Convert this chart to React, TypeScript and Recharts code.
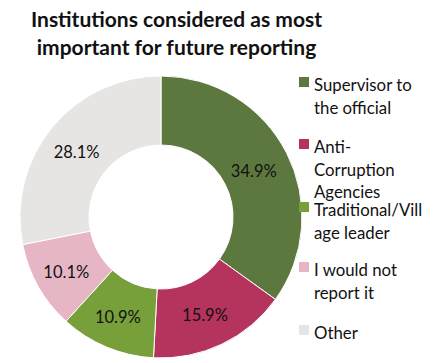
import React from "react";
import { PieChart, Pie, Cell, Legend } from "recharts";

const categories = [
  "Supervisor to the official",
  "Anti-Corruption Agencies",
  "Traditional/Village leader",
  "I would not report it",
  "Other",
];
const values = [34.9, 15.9, 10.9, 10.1, 28.1];
const colors = ["#5D783F", "#B5345D", "#77A03A", "#E7B6C5", "#E7E5E3"];
const legendLines = [
  ["Supervisor to", "the official"],
  ["Anti-", "Corruption", "Agencies"],
  ["Traditional/Vill", "age leader"],
  ["I would not", "report it"],
  ["Other"],
];
const legendTops = [77, 139, 202, 262, 325];

const data = categories.map((name, i) => ({ name, value: values[i] }));

const FONT = "Lato, 'Open Sans', sans-serif";
const RAD = Math.PI / 180;

const renderLabel = (props: any) => {
  const { cx, cy, midAngle, innerRadius, outerRadius, value } = props;
  const r = (innerRadius + outerRadius) / 2;
  const x = cx + r * Math.cos(-midAngle * RAD);
  const y = cy + r * Math.sin(-midAngle * RAD);
  return (
    <text
      x={x - 2}
      y={y + 4}
      textAnchor="middle"
      dominantBaseline="middle"
      fill="#111"
      fontSize={16.5}
      fontFamily={FONT}
    >
      {value.toFixed(1)}%
    </text>
  );
};

const LegendContent = () => (
  <div style={{ position: "relative", width: 130, height: 290, fontFamily: FONT }}>
    {legendLines.map((lines, i) => (
      <div key={i}>
        <div
          style={{
            position: "absolute",
            left: 0,
            top: legendTops[i] - 60,
            width: 10,
            height: 10,
            background: colors[i],
          }}
        />
        {lines.map((ln, j) => (
          <div
            key={j}
            style={{
              position: "absolute",
              left: 15,
              top: legendTops[i] - 60 - 3 + j * 22.5,
              fontSize: 16.8,
              lineHeight: "22px",
              color: "#111",
              whiteSpace: "nowrap",
            }}
          >
            {ln}
          </div>
        ))}
      </div>
    ))}
  </div>
);

export default function App() {
  return (
    <div style={{ position: "absolute", left: 0, top: 0, width: 434, height: 363, background: "#fff" }}>
      <div
        style={{
          position: "absolute",
          left: 0,
          top: 5,
          width: 353,
          textAlign: "center",
          fontFamily: FONT,
          fontWeight: 700,
          fontSize: 21,
          lineHeight: "28px",
          color: "#111",
          zIndex: 2,
        }}
      >
        Institutions considered as most
        <br />
        important for future reporting
      </div>
      <PieChart width={434} height={363}>
        <Pie
          data={data}
          dataKey="value"
          nameKey="name"
          cx={156}
          cy={212}
          innerRadius={72}
          outerRadius={141}
          startAngle={90}
          endAngle={-270}
          stroke="#fff"
          strokeWidth={1}
          label={renderLabel}
          labelLine={false}
          isAnimationActive={false}
        >
          {data.map((d, i) => (
            <Cell key={d.name} fill={colors[i]} />
          ))}
        </Pie>
        <Legend
          content={<LegendContent />}
          wrapperStyle={{ position: "absolute", left: 299, top: 60, width: 135 }}
        />
      </PieChart>
    </div>
  );
}
